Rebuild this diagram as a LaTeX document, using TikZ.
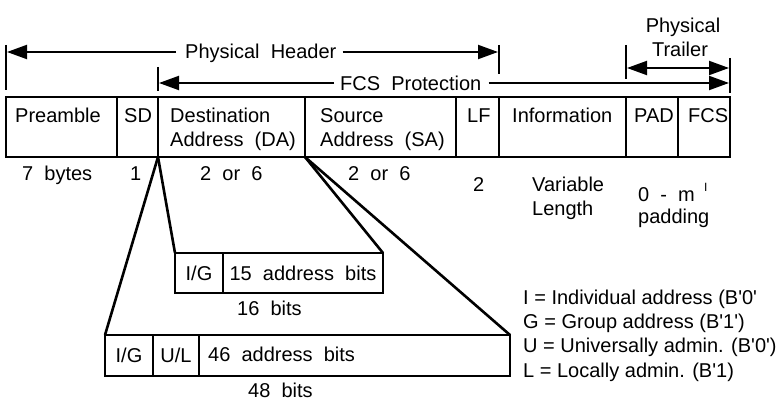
\documentclass[tikz,border=0pt]{standalone}
\usepackage{fontspec}
\setmainfont{Liberation Sans}
\usetikzlibrary{arrows.meta}
\newcommand{\sq}{\textquotesingle}
\begin{document}
\begin{tikzpicture}[x=1pt,y=-1pt,
  cellbox/.style={draw, line width=2.6pt, inner sep=0pt, outer sep=0pt},
  lbl/.style={anchor=base west, inner sep=0pt, font=\fontsize{20}{24}\selectfont},
  tickline/.style={line width=2pt},
  lead/.style={line width=2.6pt},
  arr/.style={line width=2pt, -{Triangle[length=20pt,width=14pt]}},
  dblarr/.style={line width=2pt, {Triangle[length=20pt,width=14pt]}-{Triangle[length=20pt,width=14pt]}},
  htext/.style={inner sep=0pt, font=\fontsize{20}{24}\selectfont}]
\useasboundingbox (0,0) rectangle (784,406);
% frame cells
\node[cellbox, minimum width=111pt, minimum height=60pt] (pre) at (61.5,127) {};
\node[cellbox, minimum width=41pt, minimum height=60pt] (sd) at (137.5,127) {};
\node[cellbox, minimum width=147pt, minimum height=60pt] (da) at (231.5,127) {};
\node[cellbox, minimum width=151pt, minimum height=60pt] (sa) at (380.5,127) {};
\node[cellbox, minimum width=43pt, minimum height=60pt] (lf) at (477.5,127) {};
\node[cellbox, minimum width=127pt, minimum height=60pt] (info) at (562.5,127) {};
\node[cellbox, minimum width=52pt, minimum height=60pt] (pad) at (652,127) {};
\node[cellbox, minimum width=52pt, minimum height=60pt] (fcs) at (704,127) {};
% cell texts
\node[lbl] (tpre) at (15,123) {Preamble};
\node[lbl] (tsd) at (124,123) {SD};
\node[lbl] (tda1) at (170,123) {Destination};
\node[lbl] (tda2) at (170,147) {Address\ \ (DA)};
\node[lbl] (tsa1) at (320,123) {Source};
\node[lbl] (tsa2) at (320,147) {Address\ \ (SA)};
\node[lbl] (tlf) at (467,123) {LF};
\node[lbl] (tinfo) at (512,123) {Information};
\node[lbl] (tpad) at (634,123) {PAD};
\node[lbl] (tfcs) at (688,123) {FCS};
% sizes below
\node[lbl] (s1) at (22,181) {7\ \ bytes};
\node[lbl] (s2) at (130,181) {1};
\node[lbl] (s3) at (200,181) {2\ \ or\ \ 6};
\node[lbl] (s4) at (348,181) {2\ \ or\ \ 6};
\node[lbl] (s5) at (473,192) {2};
\node[lbl] (s6) at (532,192) {Variable};
\node[lbl] (s7) at (532,215) {Length};
\node[lbl] (s8) at (638,201) {0\ \ -\ \ m};
\node[lbl] (s9) at (638,223) {padding};
\node[lbl, font=\fontsize{12}{14}\selectfont] (s10) at (704,192) {I};
% header arrows
\coordinate (phA) at (6,45); \coordinate (phB) at (6,90);
\coordinate (phC) at (499,45); \coordinate (phD) at (499,74);
\coordinate (fpA) at (158,67); \coordinate (fpB) at (158,91);
\coordinate (fpC) at (730,58); \coordinate (fpD) at (730,93);
\coordinate (trA) at (626,45); \coordinate (trB) at (626,79);
\draw[tickline] (phA) -- (phB);
\draw[tickline] (phC) -- (phD);
\draw[tickline] (fpA) -- (fpB);
\draw[tickline] (fpC) -- (fpD);
\draw[tickline] (trA) -- (trB);
\node[htext, anchor=base west] (phtext) at (185,59) {Physical\ \ Header};
\coordinate (phL) at (7,52); \coordinate (phR) at (498,52);
\draw[arr] ([xshift=-9pt]phtext.west |- phL) -- (phL);
\draw[arr] ([xshift=6pt]phtext.east |- phR) -- (phR);
\node[htext, anchor=base west] (fptext) at (340,91) {FCS\ \ Protection};
\coordinate (fpL) at (159,83); \coordinate (fpR) at (729,83);
\draw[arr] ([xshift=-6pt]fptext.west |- fpL) -- (fpL);
\draw[arr] ([xshift=7pt]fptext.east |- fpR) -- (fpR);
\node[htext, anchor=base] (trt1) at (683,33) {Physical};
\node[htext, anchor=base] (trt2) at (680,57) {Trailer};
\coordinate (trL) at (627,68); \coordinate (trR) at (729,68);
\draw[dblarr] (trL) -- (trR);
% 16-bit box
\node[cellbox, minimum width=48pt, minimum height=40pt, font=\fontsize{20}{24}\selectfont] (ig1) at (199,273) {I/G};
\node[cellbox, minimum width=160pt, minimum height=40pt, font=\fontsize{20}{24}\selectfont] (a15) at (303,273) {15\ \ address\ \ bits};
\node[lbl] (b16) at (237,315) {16\ \ bits};
% 48-bit box
\node[cellbox, minimum width=48pt, minimum height=41pt, font=\fontsize{20}{24}\selectfont] (ig2) at (129,355.5) {I/G};
\node[cellbox, minimum width=46pt, minimum height=41pt, font=\fontsize{20}{24}\selectfont] (ul) at (176,355.5) {U/L};
\node[cellbox, minimum width=311pt, minimum height=41pt] (a46) at (354.5,355.5) {};
\node[lbl] (t46) at (208,361) {46\ \ address\ \ bits};
\node[lbl] (b48) at (248,397) {48\ \ bits};
% leaders
\draw[lead] (da.south west) -- (ig1.north west);
\draw[lead] (da.south east) -- (a15.north east);
\draw[lead] (da.south west) -- (ig2.north west);
\draw[lead] (da.south east) -- (a46.north east);
% legend
\node[lbl] (lg1) at (523,304) {I = Individual address (B\sq0\sq};
\node[lbl] (lg2) at (523,328) {G = Group address (B\sq1\sq)};
\node[lbl] (lg3) at (523,352) {U = Universally admin. (B\sq0\sq)};
\node[lbl] (lg4) at (523,377) {L = Locally admin. (B\sq1)};
\end{tikzpicture}
\end{document}
